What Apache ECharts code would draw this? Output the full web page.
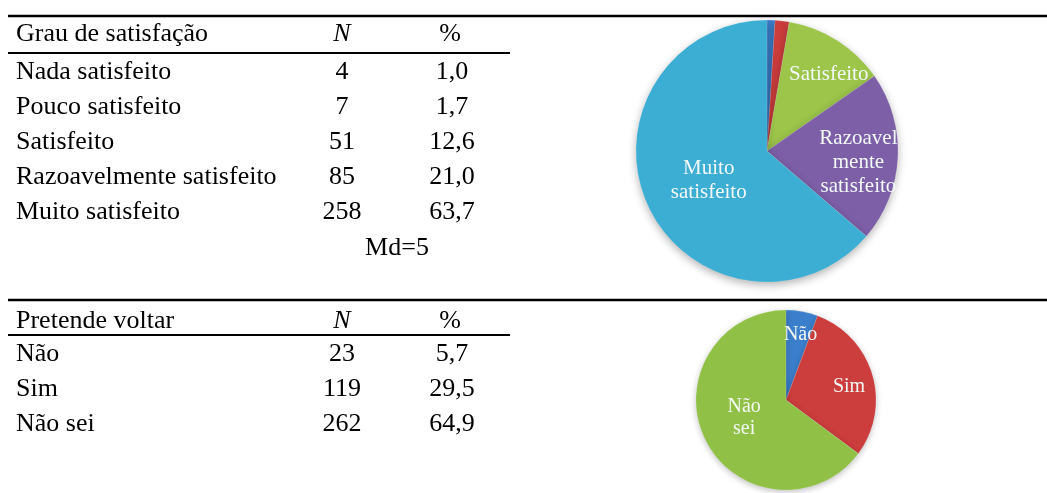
<!DOCTYPE html>
<html>
<head>
<meta charset="utf-8">
<script src="https://cdn.jsdelivr.net/npm/echarts@6/dist/echarts.min.js"></script>
<style>
  html, body { margin: 0; padding: 0; background: #fff; }
  #main { width: 1047px; height: 493px; }
</style>
</head>
<body>
<div id="main"></div>
<script>
  // Grau de satisfação
  const satCategories = ['Nada satisfeito', 'Pouco satisfeito', 'Satisfeito', 'Razoavelmente satisfeito', 'Muito satisfeito'];
  const satN = [4, 7, 51, 85, 258];
  const satPct = [1.0, 1.7, 12.6, 21.0, 63.7];
  const satPieLabels = ['', '', 'Satisfeito', 'Razoavel\nmente\nsatisfeito', 'Muito\nsatisfeito'];
  const satMedian = 'Md=5';

  // Pretende voltar
  const voltaCategories = ['Não', 'Sim', 'Não sei'];
  const voltaN = [23, 119, 262];
  const voltaPct = [5.7, 29.5, 64.9];
  const voltaPieLabels = ['Não', 'Sim', 'Não\nsei'];

  const serif = 'Liberation Serif';
  const sx = 1.04; // table text is a bit wide in the original

  const satColors = ['#3b7fcc', '#cc3d3d', '#9cc54a', '#7d5fa8', '#3cadd3'];
  const voltaColors = ['#3b7fcc', '#cc3d3d', '#90c146'];

  // nudges for the labels inside the slices
  const satLabelShift = [[0, 0], [0, 0], [25, -19], [23, 8], [4, 1]];
  const voltaLabelShift = [[6, -18], [17, 0], [1, -4]];

  function fmt(v) { return v.toFixed(1).replace('.', ','); }

  function txt(x, y, text, align, italic) {
    return {
      type: 'text', x: x, y: y, scaleX: sx,
      style: {
        text: text, x: 0, y: 0,
        textAlign: align, textVerticalAlign: 'middle',
        fontFamily: serif, fontSize: 25, fontStyle: italic ? 'italic' : 'normal',
        fill: '#000'
      }
    };
  }

  function rule(y, x2, w) {
    return { type: 'line', shape: { x1: 8, y1: y, x2: x2, y2: y }, style: { stroke: '#000', lineWidth: w } };
  }

  function table(t, title, cats, ns, pcts) {
    const els = [rule(t.top, 1047, 2.5), rule(t.rule, 510, 2)];
    els.push(txt(16, t.head, title, 'left'));
    els.push(txt(342, t.head, 'N', 'center', true));
    els.push(txt(450, t.head, '%', 'center'));
    cats.forEach(function (c, i) {
      const y = t.row0 + i * 35;
      els.push(txt(16, y, c, 'left'));
      els.push(txt(342, y, String(ns[i]), 'center'));
      els.push(txt(452, y, fmt(pcts[i]), 'center'));
    });
    return els;
  }

  let graphics = table({ top: 16, head: 34, rule: 53, row0: 72 }, 'Grau de satisfação', satCategories, satN, satPct);
  graphics.push(txt(397, 72 + 5 * 35 + 1, satMedian, 'center'));
  graphics = graphics.concat(table({ top: 300, head: 321, rule: 335, row0: 354 }, 'Pretende voltar', voltaCategories, voltaN, voltaPct));

  function pieData(cats, vals, labels, colors) {
    return cats.map(function (c, i) {
      return {
        name: c, value: vals[i],
        itemStyle: { color: colors[i] },
        label: { show: labels[i] !== '' }
      };
    });
  }

  const chart = echarts.init(document.getElementById('main'));
  chart.setOption({
    backgroundColor: '#fff',
    animation: false,
    graphic: { elements: graphics },
    series: [{
      type: 'pie',
      center: [767, 151],
      radius: 131,
      startAngle: 90,
      clockwise: true,
      silent: true,
      itemStyle: {
        borderColor: 'rgba(255,255,255,0.25)', borderWidth: 0.5,
        shadowBlur: 8, shadowOffsetY: 3, shadowColor: 'rgba(0,0,0,0.3)'
      },
      label: {
        position: 'inside',
        formatter: function (p) { return satPieLabels[p.dataIndex]; },
        color: '#f3f8f8',
        fontFamily: serif, fontSize: 21, lineHeight: 24
      },
      labelLine: { show: false },
      labelLayout: function (p) {
        const s = satLabelShift[p.dataIndex];
        return { dx: s[0], dy: s[1] };
      },
      data: pieData(satCategories, satN, satPieLabels, satColors)
    }, {
      type: 'pie',
      center: [786, 400],
      radius: 90,
      startAngle: 90,
      clockwise: true,
      silent: true,
      itemStyle: {
        borderColor: 'rgba(255,255,255,0.25)', borderWidth: 0.5,
        shadowBlur: 6, shadowOffsetY: 2, shadowColor: 'rgba(0,0,0,0.25)'
      },
      label: {
        position: 'inside',
        formatter: function (p) { return voltaPieLabels[p.dataIndex]; },
        color: '#f3f8f3',
        fontFamily: serif, fontSize: 20, lineHeight: 22
      },
      labelLine: { show: false },
      labelLayout: function (p) {
        const s = voltaLabelShift[p.dataIndex];
        return { dx: s[0], dy: s[1] };
      },
      data: pieData(voltaCategories, voltaN, voltaPieLabels, voltaColors)
    }]
  });
</script>
</body>
</html>
